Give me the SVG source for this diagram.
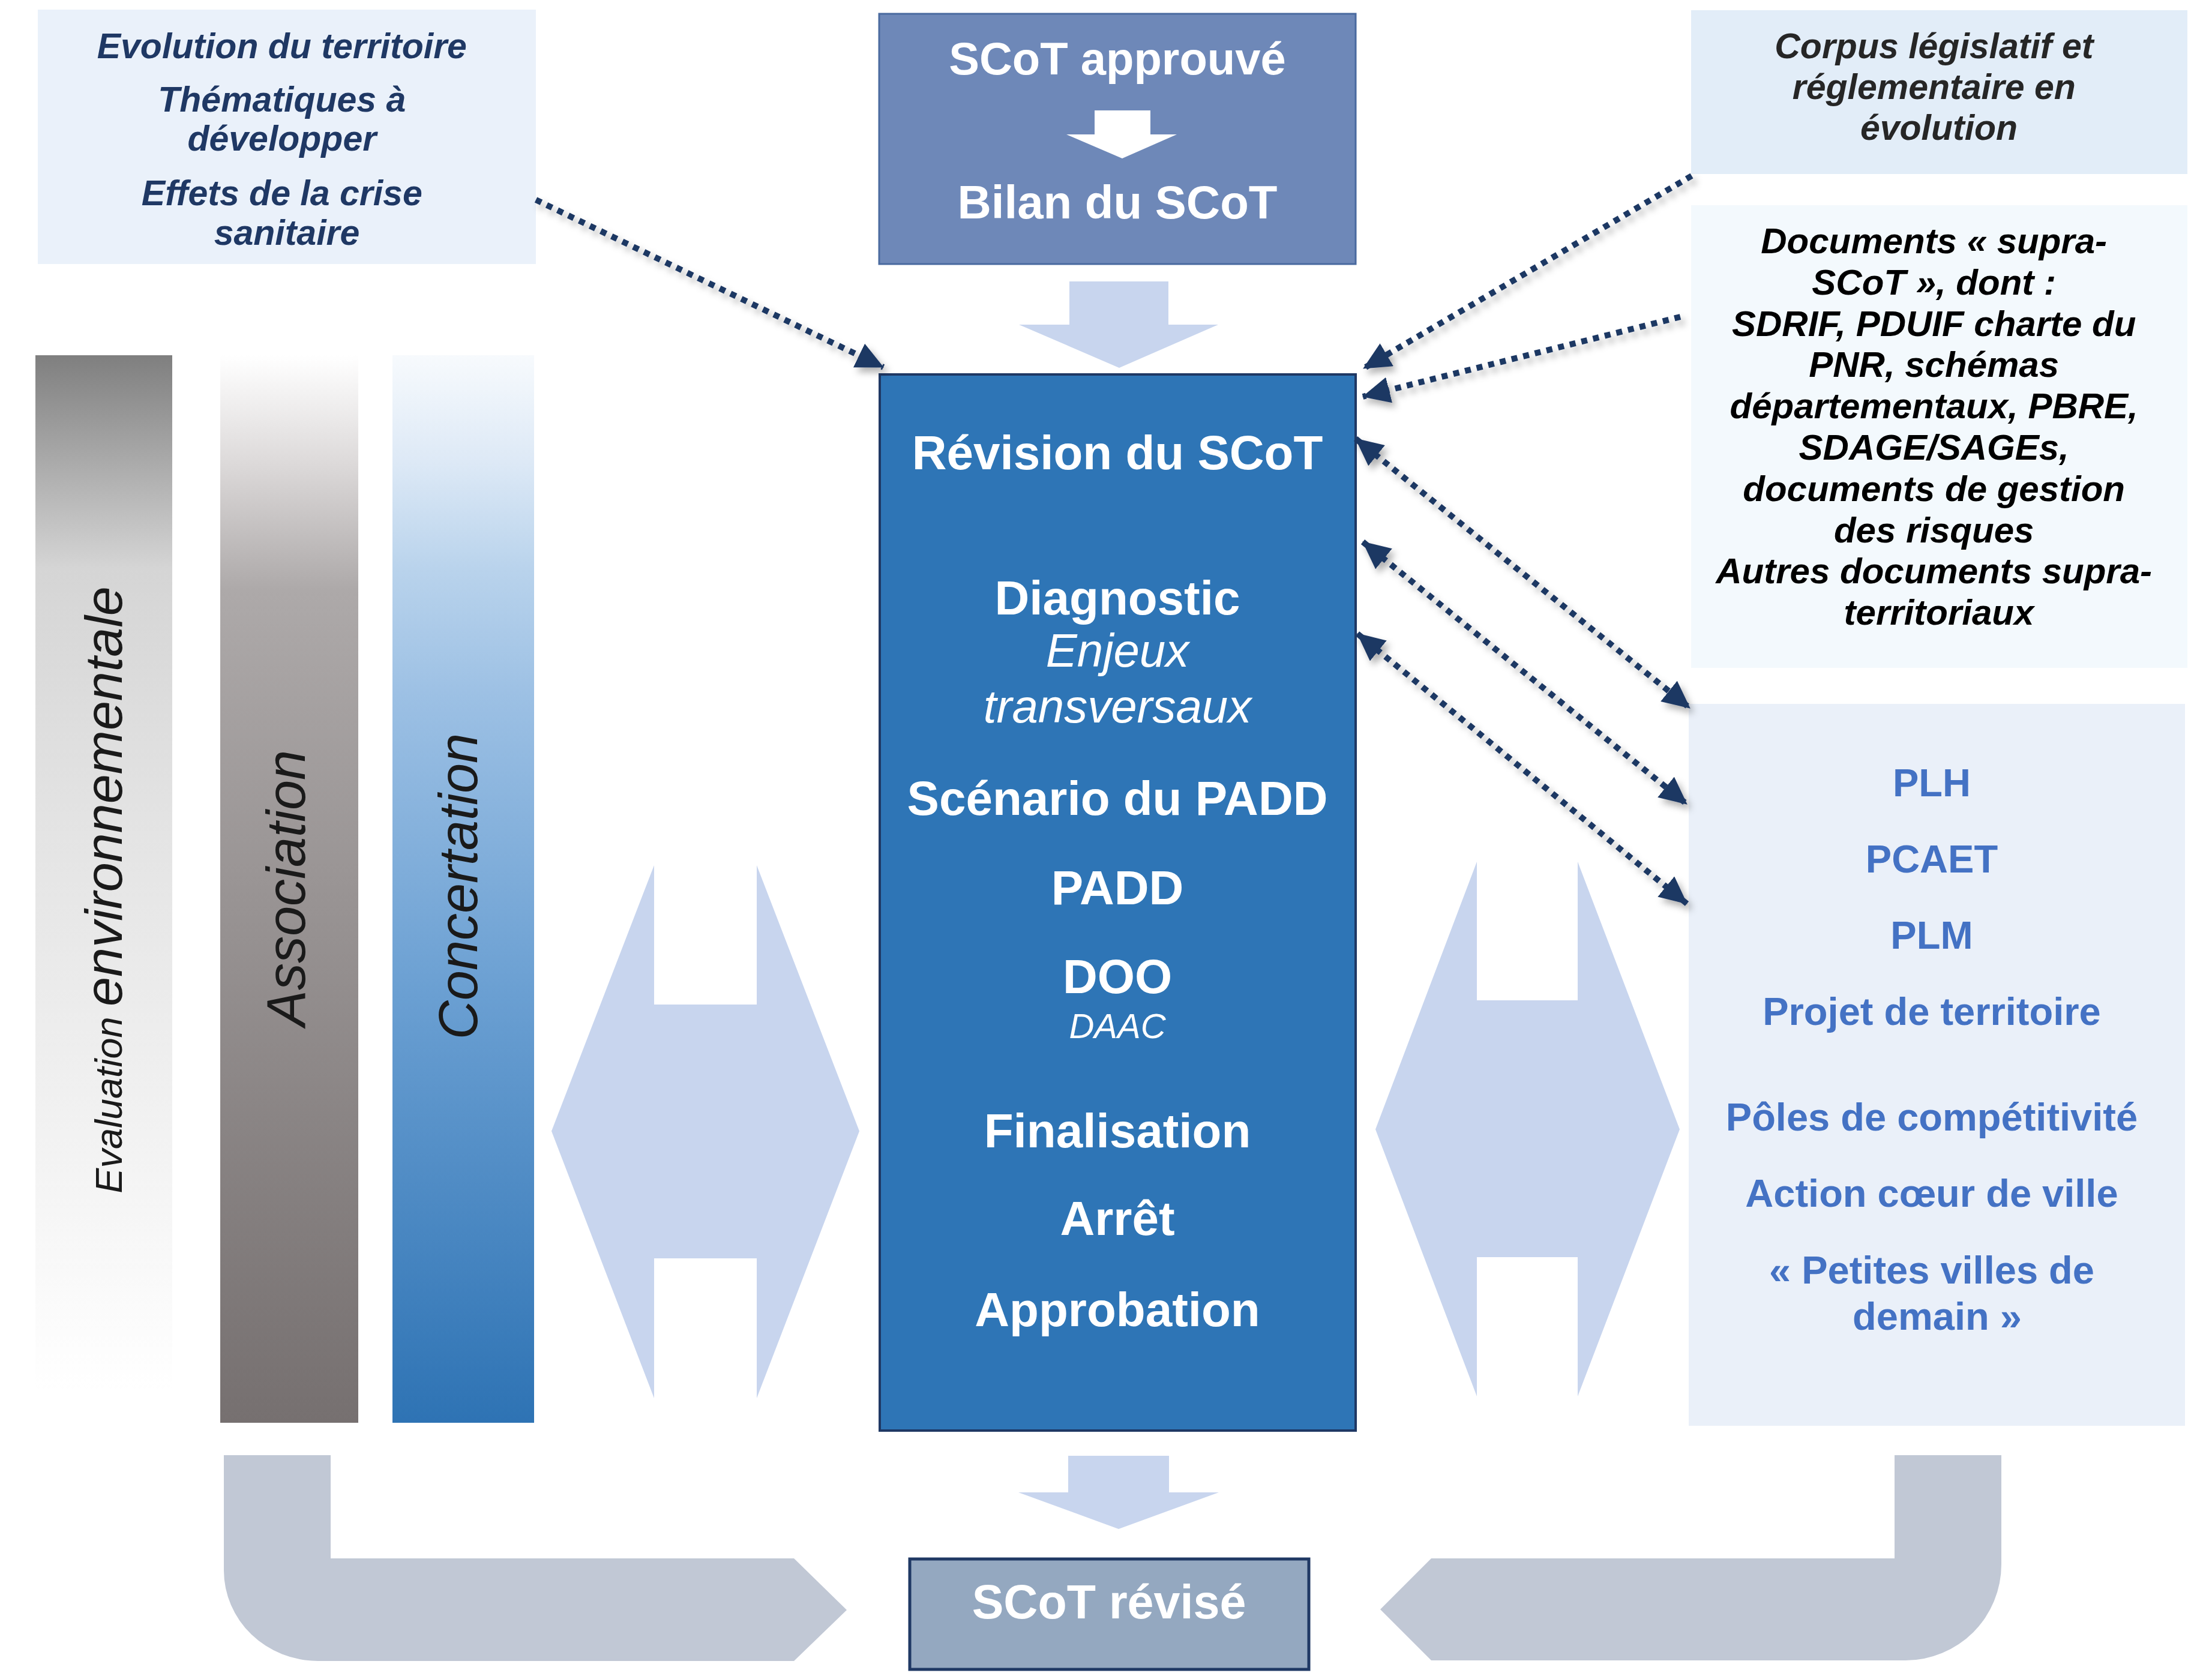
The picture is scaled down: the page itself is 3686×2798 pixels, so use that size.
<svg xmlns="http://www.w3.org/2000/svg" width="3686" height="2798" viewBox="0 0 3686 2798">
<defs>
<style>
text{font-family:"Liberation Sans",Arial,sans-serif;}
.bi{font-weight:bold;font-style:italic;}
.b{font-weight:bold;}
.it{font-style:italic;}
.navy{fill:#1F3864;}
.white{fill:#FFFFFF;}
.dark{fill:#1A1A1A;}
.blue{fill:#4472C4;}
.dot{fill:none;stroke:#1F3864;stroke-width:10;stroke-dasharray:10 10;}
.block{fill:#C8D5EE;}
.gray{fill:#C1C8D5;}
</style>
<linearGradient id="gEval" x1="0" y1="0" x2="0" y2="1">
<stop offset="0" stop-color="#7F7F7F"/>
<stop offset="0.2" stop-color="#D5D5D5"/>
<stop offset="0.45" stop-color="#E4E4E4"/>
<stop offset="0.75" stop-color="#F3F3F3"/>
<stop offset="0.97" stop-color="#FFFFFF"/>
</linearGradient>
<linearGradient id="gAssoc" x1="0" y1="0" x2="0" y2="1">
<stop offset="0" stop-color="#FFFFFF"/>
<stop offset="0.1" stop-color="#DDDADA"/>
<stop offset="0.22" stop-color="#ADA9A9"/>
<stop offset="0.5" stop-color="#999494"/>
<stop offset="1" stop-color="#767070"/>
</linearGradient>
<linearGradient id="gConc" x1="0" y1="0" x2="0" y2="1">
<stop offset="0" stop-color="#F7FAFD"/>
<stop offset="0.1" stop-color="#DDE9F6"/>
<stop offset="0.2" stop-color="#B9D3EC"/>
<stop offset="0.32" stop-color="#9CC0E4"/>
<stop offset="0.6" stop-color="#6A9FD2"/>
<stop offset="1" stop-color="#2E73B4"/>
</linearGradient>
<marker id="ah" viewBox="0 0 46 44" refX="45" refY="22" markerWidth="46" markerHeight="44" markerUnits="userSpaceOnUse" orient="auto-start-reverse">
<path d="M0,0 L46,22 L0,44 Z" fill="#1F3864"/>
</marker>
<filter id="sh" x="-20%" y="-20%" width="140%" height="140%">
<feDropShadow dx="6" dy="8" stdDeviation="6" flood-color="#000000" flood-opacity="0.3"/>
</filter>
</defs>
<rect x="0" y="0" width="3686" height="2798" fill="#FFFFFF"/>

<g id="node-contexte">
<rect x="63" y="16" width="830" height="424" fill="#EAF1FA"/>
<text class="bi navy" font-size="59" text-anchor="middle">
<tspan x="478" y="97">Evolution du territoire</tspan>
<tspan x="478" y="186">Thématiques à</tspan>
<tspan x="478" y="251">développer</tspan>
<tspan x="478" y="342">Effets de la crise</tspan>
<tspan x="478" y="408">sanitaire</tspan>
</text>
</g>

<g id="node-scot-approuve">
<rect x="1465" y="23" width="794" height="417" fill="#6E88B8" stroke="#4A6A9F" stroke-width="3"/>
<text class="b white" font-size="76" x="1862" y="124" text-anchor="middle">SCoT approuvé</text>
<path d="M1824,184 L1917,184 L1917,224 L1961,224 L1870,264 L1777,224 L1824,224 Z" fill="#FFFFFF"/>
<text class="b white" font-size="78" x="1862" y="364" text-anchor="middle">Bilan du SCoT</text>
</g>

<g id="node-corpus">
<rect x="2818" y="17" width="827" height="273" fill="#E2EDF8"/>
<text class="bi" fill="#262626" font-size="59" text-anchor="middle">
<tspan x="3231" y="97">Corpus législatif et</tspan>
<tspan x="3231" y="165">réglementaire en</tspan>
<tspan x="3231" y="233">évolution</tspan>
</text>
</g>

<g id="node-supra">
<rect x="2818" y="342" width="827" height="771" fill="#F3F9FD"/>
<text class="bi" fill="#000000" font-size="60" text-anchor="middle">
<tspan x="3231" y="422">Documents « supra-</tspan>
<tspan x="3231" y="491">SCoT », dont :</tspan>
<tspan x="3231" y="560">SDRIF, PDUIF charte du</tspan>
<tspan x="3231" y="628">PNR, schémas</tspan>
<tspan x="3231" y="697">départementaux, PBRE,</tspan>
<tspan x="3231" y="766">SDAGE/SAGEs,</tspan>
<tspan x="3231" y="835">documents de gestion</tspan>
<tspan x="3231" y="904">des risques</tspan>
<tspan x="3231" y="972">Autres documents supra-</tspan>
<tspan x="3231" y="1041">territoriaux</tspan>
</text>
</g>

<g id="node-evaluation">
<rect x="59" y="592" width="228" height="1779" fill="url(#gEval)"/>
<text class="it dark" transform="translate(203,1483) rotate(-90)" text-anchor="middle"><tspan font-size="63">Evaluation </tspan><tspan font-size="88">environnementale</tspan></text>
</g>

<g id="node-association">
<rect x="367" y="592" width="230" height="1779" fill="url(#gAssoc)"/>
<text class="it dark" font-size="90" transform="translate(508,1480) rotate(-90)" text-anchor="middle">Association</text>
</g>

<g id="node-concertation">
<rect x="654" y="592" width="236" height="1779" fill="url(#gConc)"/>
<text class="it dark" font-size="90" transform="translate(795,1477) rotate(-90)" text-anchor="middle">Concertation</text>
</g>

<g id="node-revision">
<rect x="1466" y="624" width="793" height="1760" fill="#2E75B6" stroke="#1F3864" stroke-width="4"/>
<g class="white" text-anchor="middle">
<text class="b" font-size="80" x="1862" y="782">Révision du SCoT</text>
<text class="b" font-size="80" x="1862" y="1024">Diagnostic</text>
<text class="it" font-size="78" x="1862" y="1111">Enjeux</text>
<text class="it" font-size="78" x="1862" y="1204">transversaux</text>
<text class="b" font-size="80" x="1862" y="1358">Scénario du PADD</text>
<text class="b" font-size="80" x="1862" y="1507">PADD</text>
<text class="b" font-size="80" x="1862" y="1655">DOO</text>
<text class="it" font-size="58" x="1862" y="1730">DAAC</text>
<text class="b" font-size="80" x="1862" y="1912">Finalisation</text>
<text class="b" font-size="80" x="1862" y="2058">Arrêt</text>
<text class="b" font-size="80" x="1862" y="2210">Approbation</text>
</g>
</g>

<g id="node-documents-locaux">
<rect x="2814" y="1173" width="827" height="1203" fill="#EAF0F9"/>
<text class="b blue" font-size="65" text-anchor="middle">
<tspan x="3228" y="1327">PLH</tspan>
<tspan x="3228" y="1454">PCAET</tspan>
<tspan x="3228" y="1581">PLM</tspan>
<tspan x="3228" y="1708">Projet de territoire</tspan>
<tspan x="3228" y="1884">Pôles de compétitivité</tspan>
<tspan x="3228" y="2011">Action cœur de ville</tspan>
<tspan x="3228" y="2139">« Petites villes de</tspan>
<tspan x="3228" y="2216">demain »</tspan>
</text>
</g>

<g id="node-scot-revise">
<rect x="1516" y="2598" width="665" height="184" fill="#94A8C0" stroke="#1F3864" stroke-width="5"/>
<text class="b white" font-size="79" x="1848" y="2697" text-anchor="middle">SCoT révisé</text>
</g>

<g id="connectors">
<path class="block" d="M1782,469 L1947,469 L1947,541 L2030,541 L1865,613 L1698,541 L1782,541 Z"/>
<path class="block" d="M1780,2426 L1948,2426 L1948,2487 L2031,2487 L1864,2548 L1697,2487 L1780,2487 Z"/>
<path class="block" d="M1090,1442 L1090,1674 L1261,1674 L1261,1442 L1432,1885 L1261,2330 L1261,2097 L1090,2097 L1090,2330 L919,1885 Z"/>
<path class="block" d="M2461,1436 L2461,1667 L2629,1667 L2629,1436 L2799,1882 L2629,2327 L2629,2095 L2461,2095 L2461,2327 L2292,1882 Z"/>
<path class="gray" d="M373,2425 L551,2425 L551,2597 L1323,2597 L1411,2683 L1323,2768 L530,2768 A157 151 0 0 1 373,2617 Z"/>
<path class="gray" d="M3157,2425 L3335,2425 L3335,2607 A160 160 0 0 1 3175,2767 L2385,2767 L2300,2682 L2385,2597 L3157,2597 Z"/>
<g filter="url(#sh)">
<line class="dot" x1="893" y1="333" x2="1472" y2="612" marker-end="url(#ah)"/>
<line class="dot" x1="2819" y1="293" x2="2272" y2="614" marker-end="url(#ah)"/>
<line class="dot" x1="2800" y1="528" x2="2271" y2="661" marker-end="url(#ah)"/>
<line class="dot" x1="2259" y1="731" x2="2816" y2="1180" marker-start="url(#ah)" marker-end="url(#ah)"/>
<line class="dot" x1="2271" y1="903" x2="2811" y2="1340" marker-start="url(#ah)" marker-end="url(#ah)"/>
<line class="dot" x1="2262" y1="1056" x2="2811" y2="1506" marker-start="url(#ah)" marker-end="url(#ah)"/>
</g>
</g>
</svg>
